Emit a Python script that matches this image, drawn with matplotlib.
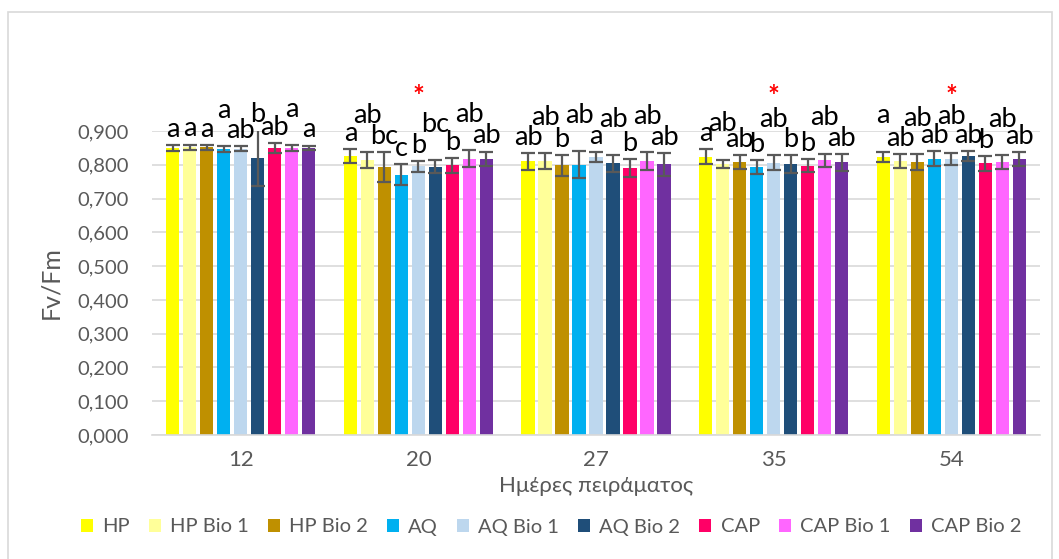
import matplotlib
matplotlib.use("Agg")
import matplotlib.pyplot as plt
import numpy as np
from matplotlib.patches import Rectangle

# ---------------- data ----------------
days = ["12", "20", "27", "35", "54"]
series = ["HP", "HP Bio 1", "HP Bio 2", "AQ", "AQ Bio 1", "AQ Bio 2", "CAP", "CAP Bio 1", "CAP Bio 2"]

HP        = [0.850, 0.826, 0.811, 0.824, 0.824]
HP_Bio1   = [0.852, 0.814, 0.811, 0.803, 0.811]
HP_Bio2   = [0.852, 0.794, 0.798, 0.808, 0.808]
AQ        = [0.847, 0.771, 0.800, 0.793, 0.818]
AQ_Bio1   = [0.848, 0.796, 0.823, 0.806, 0.818]
AQ_Bio2   = [0.819, 0.794, 0.804, 0.803, 0.826]
CAP       = [0.849, 0.798, 0.791, 0.797, 0.804]
CAP_Bio1  = [0.850, 0.818, 0.811, 0.813, 0.808]
CAP_Bio2  = [0.850, 0.818, 0.801, 0.808, 0.816]

HP_err       = [0.008, 0.021, 0.025, 0.022, 0.015]
HP_Bio1_err  = [0.008, 0.025, 0.023, 0.012, 0.021]
HP_Bio2_err  = [0.007, 0.044, 0.031, 0.021, 0.024]
AQ_err       = [0.008, 0.031, 0.040, 0.020, 0.022]
AQ_Bio1_err  = [0.008, 0.016, 0.015, 0.022, 0.018]
AQ_Bio2_err  = [0.083, 0.019, 0.025, 0.026, 0.015]
CAP_err      = [0.015, 0.022, 0.027, 0.019, 0.021]
CAP_Bio1_err = [0.008, 0.026, 0.026, 0.020, 0.021]
CAP_Bio2_err = [0.007, 0.021, 0.033, 0.025, 0.021]

# significance letters per day (one per series)
letters_12 = ["a", "a", "a", "a", "ab", "b", "ab", "a", "a"]
letters_20 = ["a", "ab", "bc", "c", "b", "bc", "b", "ab", "ab"]
letters_27 = ["ab", "ab", "b", "ab", "a", "ab", "b", "ab", "ab"]
letters_35 = ["a", "ab", "ab", "b", "ab", "b", "b", "ab", "ab"]
letters_54 = ["a", "ab", "ab", "ab", "ab", "ab", "b", "ab", "ab"]
significant_days = ["20", "35", "54"]

yticks = [0.0, 0.1, 0.2, 0.3, 0.4, 0.5, 0.6, 0.7, 0.8, 0.9]

# ---------------- styling ----------------
colors = ["#FFFF00", "#FFFF99", "#BF9000", "#00B0F0", "#BDD7EE",
          "#1F4E79", "#FF0066", "#FF66FF", "#7030A0"]
# staggering of the letters (0 = just above error bar, 1 = raised)
raise_12 = [0, 0, 0, 1, 0, 0, 0, 1, 0]
raise_20 = [0, 1, 0, 0, 0, 1, 0, 1, 0]
raise_27 = [0, 1, 0, 1, 0, 1, 0, 1, 0]
raise_35 = [0, 1, 0, 0, 1, 0, 0, 1, 0]
raise_54 = [1, 0, 1, 0, 1, 0, 0, 1, 0]

FONT = "Lato"
GRAY = "#595959"
plt.rcParams["font.family"] = [FONT, "DejaVu Sans"]

values = [HP, HP_Bio1, HP_Bio2, AQ, AQ_Bio1, AQ_Bio2, CAP, CAP_Bio1, CAP_Bio2]
errors = [HP_err, HP_Bio1_err, HP_Bio2_err, AQ_err, AQ_Bio1_err, AQ_Bio2_err,
          CAP_err, CAP_Bio1_err, CAP_Bio2_err]
letters = [letters_12, letters_20, letters_27, letters_35, letters_54]
raises = [raise_12, raise_20, raise_27, raise_35, raise_54]

W, H = 1059, 559
fig = plt.figure(figsize=(W / 100, H / 100), dpi=100)
ax = fig.add_axes([152 / W, (H - 435) / H, (1040 - 152) / W, (435 - 131) / H])

x = np.arange(len(days))
slot = 0.0957
bw = 0.074
n = len(series)
for i, (name, vals, errs, col) in enumerate(zip(series, values, errors, colors)):
    xs = x + (i - (n - 1) / 2) * slot
    ax.bar(xs, vals, width=bw, color=col, label=name, zorder=2)
    ax.errorbar(xs, vals, yerr=errs, fmt="none", ecolor=GRAY, elinewidth=1.6,
                capsize=5, capthick=1.6, zorder=3)

# letters
gap = 0.024
step = 0.06
for g in range(len(days)):
    for i in range(n):
        xi = x[g] + (i - (n - 1) / 2) * slot
        top = values[i][g] + errors[i][g]
        y = top + gap + raises[g][i] * step
        ax.text(xi, y, letters[g][i], ha="center", va="baseline", fontsize=19.5,
                color="black", clip_on=False, zorder=4)

for d in significant_days:
    g = days.index(d)
    ax.text(x[g], 1.0, "*", ha="center", va="center", fontsize=20,
            color="#FF0000", clip_on=False, fontweight="bold")

ax.set_ylim(0, 0.9)
ax.set_xlim(-0.5, len(days) - 0.5)
ax.set_yticks(yticks)
ax.set_yticklabels([f"{v:.3f}".replace(".", ",") for v in yticks])
ax.set_xticks(x)
ax.set_xticklabels(days)
ax.tick_params(axis="both", length=0, labelsize=14.5, colors=GRAY)
ax.tick_params(axis="x", labelsize=16, pad=11)
ax.tick_params(axis="y", pad=17)
ax.yaxis.grid(True, color="#D9D9D9", linewidth=1.2, zorder=0)
ax.set_axisbelow(True)
for s in ["top", "right", "left"]:
    ax.spines[s].set_visible(False)
ax.spines["bottom"].set_color("#D9D9D9")
ax.spines["bottom"].set_linewidth(1.2)

ax.set_ylabel("Fv/Fm", fontsize=18, color=GRAY)
ax.yaxis.set_label_coords(-0.101, 0.5)
ax.set_xlabel("Ημέρες πειράματος", fontsize=16, color=GRAY, labelpad=4)

handles, labs = ax.get_legend_handles_labels()
leg = fig.legend(handles, labs, loc="center", bbox_to_anchor=(551 / W, (H - 527) / H),
                 ncol=9, frameon=False, fontsize=14.5, handlelength=0.6,
                 handleheight=0.6, handletextpad=0.45, columnspacing=0.95,
                 labelcolor=GRAY)

# outer chart frame
fig.patches.append(Rectangle((8 / W, -0.01), (1052 - 8) / W, (H - 12) / H + 0.01,
                             transform=fig.transFigure, fill=False,
                             edgecolor="#D9D9D9", linewidth=1.2))

fig.savefig("out.png", dpi=100)
